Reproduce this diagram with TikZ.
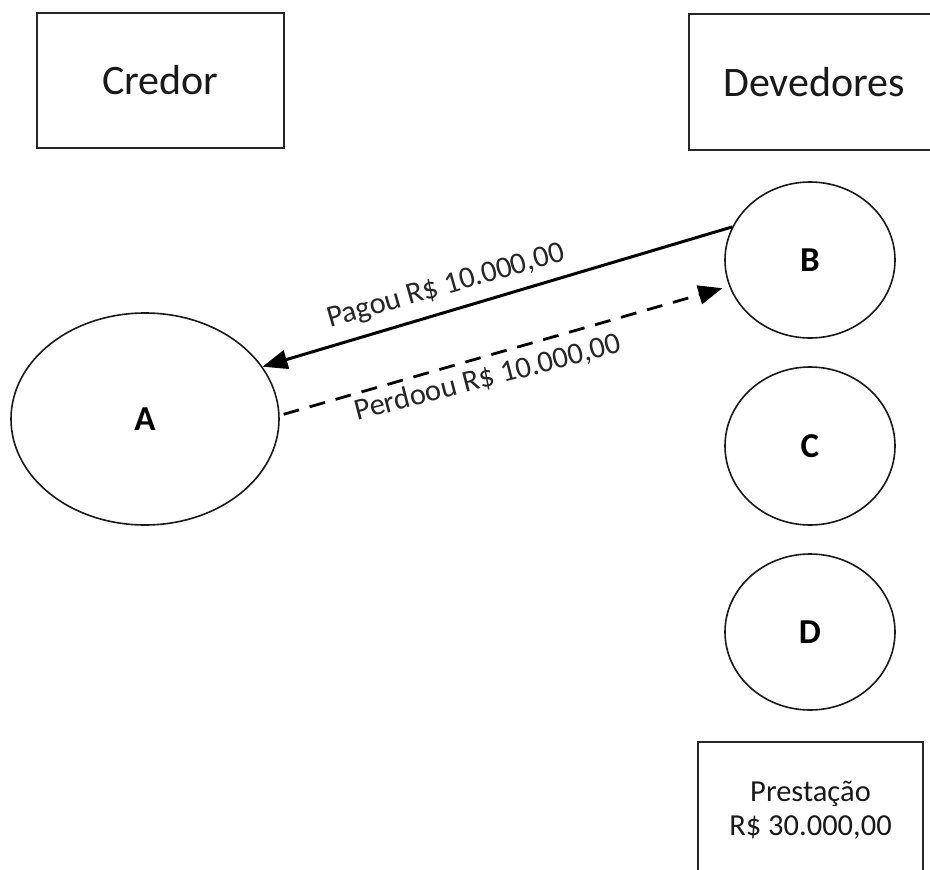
\documentclass[tikz,border=0pt]{standalone}
\usepackage{fontspec}
\setmainfont{Carlito}
\usetikzlibrary{shapes.geometric,arrows.meta}
\tikzset{
  titlebox/.style={draw=black!85,line width=2pt,minimum width=247pt,minimum height=135pt,inner sep=0pt,
    font=\fontsize{42}{50}\selectfont,text=black!90},
  party/.style={draw=black!90,ellipse,line width=1.6pt,inner sep=0pt,font=\fontsize{35}{40}\selectfont\bfseries},
  paid/.style={line width=3pt,-{Triangle[length=25pt,width=19pt]}},
  forgiven/.style={line width=2.8pt,dash pattern=on 16pt off 11pt,-{Triangle[length=24pt,width=19pt]}},
  lbl/.style={inner sep=0pt,font=\fontsize{30.5}{34}\selectfont,text=black!85},
}
\begin{document}
\begin{tikzpicture}[x=1pt,y=-1pt]
\useasboundingbox (0,0) rectangle (930,870);
\clip (0,0) rectangle (930,870);
\node[titlebox] (credor) at (160.5,80.5) {Credor};
\node[titlebox,minimum width=250pt,minimum height=136pt] (devedores) at (814,82) {Devedores};
\node[party,minimum width=268pt,minimum height=212pt] (A) at (145,419) {A};
\node[party,minimum width=170pt,minimum height=156pt] (B) at (810,260) {B};
\node[party,minimum width=170pt,minimum height=158pt] (C) at (810,446) {C};
\node[party,minimum width=170pt,minimum height=156pt] (D) at (810,632) {D};
\node[titlebox,minimum width=225pt,minimum height=136pt,align=center,font=\fontsize{30.5}{34}\selectfont] (prest) at (810.5,810) {Prestação\\R\$ 30.000,00};
\draw[paid] (B.157) -- (A.24);
\draw[forgiven,shorten >=7pt] ([xshift=4pt]A.2) -- (B.198);
\node[lbl,rotate=16] (lpagou) at (446,287) {Pagou R\$ 10.000,00};
\node[lbl,rotate=14.5] (lperdoou) at (488,378) {Perdoou R\$ 10.000,00};
\end{tikzpicture}
\end{document}
